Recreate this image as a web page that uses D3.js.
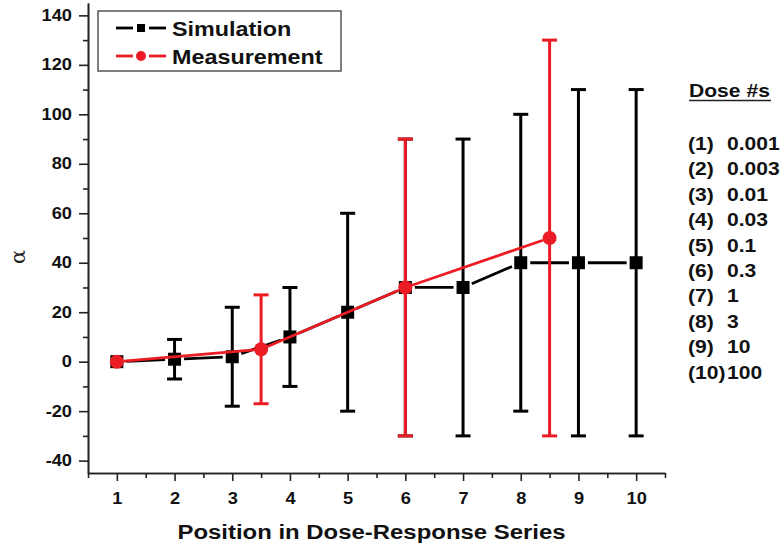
<!DOCTYPE html>
<html>
<head>
<meta charset="utf-8">
<script src="https://cdn.jsdelivr.net/npm/d3@7"></script>
<style>
  body { margin: 0; background: #fff; }
  svg { display: block; }
</style>
</head>
<body>
<div id="chart"></div>
<script>
// simulation series (black squares), one value per dose position
const simPositions = [1, 2, 3, 4, 5, 6, 7, 8, 9, 10];
const simValues = [0, 1, 2, 10, 20, 30, 30, 40, 40, 40];
const simLow = [0, -7, -18, -10, -20, -30, -30, -20, -30, -30];
const simHigh = [0, 9, 22, 30, 60, 90, 90, 100, 110, 110];

// measurement series (red circles)
const measPositions = [1, 3.5, 6, 8.5];
const measValues = [0, 5, 30, 50];
const measLow = [0, -17, -30, -30];
const measHigh = [0, 27, 90, 130];

// axis ticks
const xTicks = [1, 2, 3, 4, 5, 6, 7, 8, 9, 10];
const xMinorTicks = [0.5, 1.5, 2.5, 3.5, 4.5, 5.5, 6.5, 7.5, 8.5, 9.5, 10.5];
const yTicks = [-40, -20, 0, 20, 40, 60, 80, 100, 120, 140];
const yMinorTicks = [-30, -10, 10, 30, 50, 70, 90, 110, 130];

// dose list on the right
const doseLabels = ["(1)", "(2)", "(3)", "(4)", "(5)", "(6)", "(7)", "(8)", "(9)", "(10)"];
const doseValues = ["0.001", "0.003", "0.01", "0.03", "0.1", "0.3", "1", "3", "10", "100"];

const width = 784;
const height = 548;
const marginTop = 3;
const marginRight = 119;
const marginBottom = 75;
const marginLeft = 88;
const sx = 1.14; // the original text is a bit wider than Arial
const font = "'Liberation Sans', Arial, sans-serif";
const red = "#ec1c24";

const x = d3.scaleLinear([0.5, 10.5], [marginLeft, width - marginRight]);
const y = d3.scaleLinear([-45, 145], [height - marginBottom, marginTop]);

const svg = d3.select("#chart").append("svg")
    .attr("width", width)
    .attr("height", height)
    .attr("viewBox", [0, 0, width, height]);

// axes
function styleAxis(g) {
    g.selectAll("path, line").attr("stroke", "#222").attr("stroke-width", 1.6);
    g.selectAll("text")
        .attr("font-family", font)
        .attr("font-weight", "bold")
        .attr("font-size", 16)
        .attr("fill", "#111");
}

svg.append("g")
    .attr("transform", `translate(${marginLeft},0)`)
    .call(d3.axisLeft(y).tickValues(yMinorTicks).tickSize(5).tickSizeOuter(0).tickFormat(""))
    .call(styleAxis);

svg.append("g")
    .attr("transform", `translate(${marginLeft},0)`)
    .call(d3.axisLeft(y).tickValues(yTicks).tickSize(9).tickSizeOuter(0).tickFormat(d => String(d)))
    .call(styleAxis)
    .call(g => g.selectAll(".tick text")
        .attr("x", null)
        .attr("transform", `translate(-16,0) scale(${sx},1)`));

svg.append("g")
    .attr("transform", `translate(0,${height - marginBottom})`)
    .call(d3.axisBottom(x).tickValues(xMinorTicks).tickSize(5).tickSizeOuter(0).tickFormat(""))
    .call(styleAxis);

svg.append("g")
    .attr("transform", `translate(0,${height - marginBottom})`)
    .call(d3.axisBottom(x).tickValues(xTicks).tickSize(8).tickSizeOuter(0))
    .call(styleAxis)
    .call(g => g.selectAll(".tick text")
        .attr("y", null)
        .attr("dy", null)
        .attr("transform", `translate(0,31) scale(${sx},1)`));

// axis titles
svg.append("text")
    .attr("transform", `translate(${(marginLeft + width - marginRight) / 2 - 5},${height - 9}) scale(${sx},1)`)
    .attr("text-anchor", "middle")
    .attr("font-family", font)
    .attr("font-weight", "bold")
    .attr("font-size", 21)
    .attr("fill", "#111")
    .text("Position in Dose-Response Series");

svg.append("text")
    .attr("transform", `translate(25,257) rotate(-90)`)
    .attr("text-anchor", "middle")
    .attr("font-family", "'DejaVu Serif', 'Liberation Serif', serif")
    .attr("font-size", 21)
    .attr("fill", "#222")
    .text("α");

// series
const simData = simPositions.map((p, i) => ({ p, v: simValues[i], lo: simLow[i], hi: simHigh[i] }));
const measData = measPositions.map((p, i) => ({ p, v: measValues[i], lo: measLow[i], hi: measHigh[i] }));

// connecting segments stop a few pixels short of each symbol (Origin style)
function segments(g, data, color, gap) {
    const pairs = d3.pairs(data);
    g.append("g")
        .attr("stroke", color)
        .attr("stroke-width", 2.8)
        .selectAll("line")
        .data(pairs)
        .join("line")
        .each(function ([a, b]) {
            const x1 = x(a.p), y1 = y(a.v), x2 = x(b.p), y2 = y(b.v);
            const len = Math.hypot(x2 - x1, y2 - y1);
            const ux = (x2 - x1) / len, uy = (y2 - y1) / len;
            d3.select(this)
                .attr("x1", x1 + ux * gap).attr("y1", y1 + uy * gap)
                .attr("x2", x2 - ux * gap).attr("y2", y2 - uy * gap);
        });
}

function errorBars(g, data, color) {
    const bars = g.append("g")
        .attr("stroke", color)
        .attr("stroke-width", 3)
        .selectAll("g")
        .data(data.filter(d => d.hi > d.lo))
        .join("g");
    bars.append("line")
        .attr("x1", d => x(d.p)).attr("x2", d => x(d.p))
        .attr("y1", d => y(d.lo)).attr("y2", d => y(d.hi));
    bars.append("line")
        .attr("x1", d => x(d.p) - 7.5).attr("x2", d => x(d.p) + 7.5)
        .attr("y1", d => y(d.hi)).attr("y2", d => y(d.hi));
    bars.append("line")
        .attr("x1", d => x(d.p) - 7.5).attr("x2", d => x(d.p) + 7.5)
        .attr("y1", d => y(d.lo)).attr("y2", d => y(d.lo));
}

const sim = svg.append("g");
segments(sim, simData, "#000", 9.5);
errorBars(sim, simData, "#000");
sim.append("g")
    .selectAll("rect")
    .data(simData)
    .join("rect")
    .attr("x", d => x(d.p) - 6.5)
    .attr("y", d => y(d.v) - 6.5)
    .attr("width", 13)
    .attr("height", 13)
    .attr("fill", "#000");

const meas = svg.append("g");
segments(meas, measData, red, 7);
errorBars(meas, measData, red);
meas.append("g")
    .selectAll("circle")
    .data(measData)
    .join("circle")
    .attr("cx", d => x(d.p))
    .attr("cy", d => y(d.v))
    .attr("r", 7)
    .attr("fill", red);

// legend
const legend = svg.append("g");
legend.append("rect")
    .attr("x", 98).attr("y", 11)
    .attr("width", 243).attr("height", 60)
    .attr("fill", "#fff")
    .attr("stroke", "#555")
    .attr("stroke-width", 1.5);

const legendItems = [
    { name: "Simulation", color: "#000", shape: "square" },
    { name: "Measurement", color: red, shape: "circle" }
];
legend.selectAll("g")
    .data(legendItems)
    .join("g")
    .attr("transform", (d, i) => `translate(141,${28 + i * 28})`)
    .each(function (d) {
        const g = d3.select(this);
        g.append("line").attr("x1", -25).attr("x2", -8)
            .attr("stroke", d.color).attr("stroke-width", 2.8);
        g.append("line").attr("x1", 8).attr("x2", 25)
            .attr("stroke", d.color).attr("stroke-width", 2.8);
        if (d.shape === "square") {
            g.append("rect").attr("x", -4).attr("y", -4).attr("width", 8).attr("height", 8).attr("fill", d.color);
        } else {
            g.append("circle").attr("r", 5).attr("fill", d.color);
        }
        g.append("text")
            .attr("transform", `translate(31,7.5) scale(${sx},1)`)
            .attr("font-family", font)
            .attr("font-weight", "bold")
            .attr("font-size", 20.5)
            .attr("fill", "#111")
            .text(d.name);
    });

// dose list
const doses = svg.append("g")
    .attr("font-family", font)
    .attr("font-weight", "bold")
    .attr("fill", "#111");

doses.append("text")
    .attr("transform", `translate(689,97) scale(${sx},1)`)
    .attr("font-size", 18.5)
    .text("Dose #s");
doses.append("line")
    .attr("x1", 689).attr("x2", 771)
    .attr("y1", 100.5).attr("y2", 100.5)
    .attr("stroke", "#222")
    .attr("stroke-width", 1.6);

doses.selectAll("g.row")
    .data(doseLabels)
    .join("g")
    .attr("class", "row")
    .attr("transform", (d, i) => `translate(0,${150 + i * 25.4})`)
    .call(g => g.append("text")
        .attr("transform", `translate(688,0) scale(${sx},1)`)
        .attr("font-size", 18.5)
        .text(d => d))
    .call(g => g.append("text")
        .attr("transform", `translate(727,0) scale(${sx},1)`)
        .attr("font-size", 18.5)
        .text((d, i) => doseValues[i]));
</script>
</body>
</html>
